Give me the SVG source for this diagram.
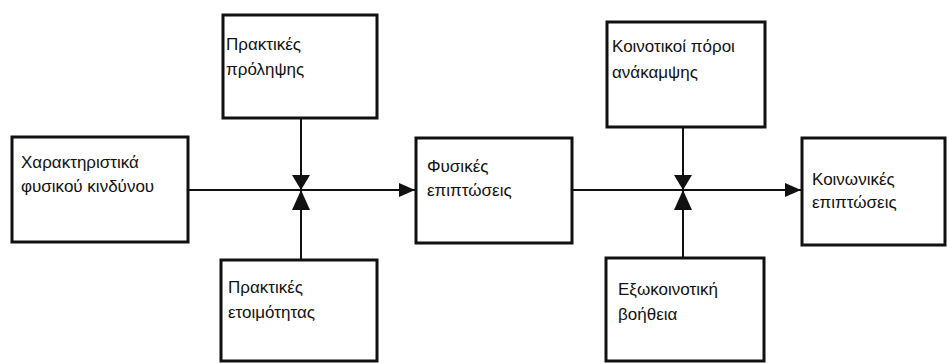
<svg xmlns="http://www.w3.org/2000/svg" width="947" height="363" viewBox="0 0 947 363">
<defs>
<style>
.box{fill:#fff;stroke:#111;stroke-width:3}
.t{font-family:"Liberation Sans",Arial,sans-serif;font-size:17px;fill:#111}
.ln{stroke:#111;stroke-width:2;fill:none}
.ah{fill:#111}
</style>
<marker id="arr" markerWidth="16" markerHeight="14" refX="16" refY="7" orient="auto" markerUnits="userSpaceOnUse">
<path d="M0,0 L16,7 L0,14 Z" fill="#111"/>
</marker>
</defs>
<rect width="947" height="363" fill="#fff"/>
<g id="connectors">
<line class="ln" x1="188" y1="190" x2="415" y2="190" marker-end="url(#arr)"/>
<line class="ln" x1="301" y1="118" x2="301" y2="260"/>
<path class="ah" d="M292,175 L310,175 L301,190 Z"/>
<path class="ah" d="M292,210 L310,210 L301,190 Z"/>
<line class="ln" x1="572" y1="190" x2="801" y2="190" marker-end="url(#arr)"/>
<line class="ln" x1="683" y1="127" x2="683" y2="258"/>
<path class="ah" d="M674,175 L692,175 L683,190 Z"/>
<path class="ah" d="M674,210 L692,210 L683,190 Z"/>
</g>
<g id="hazard">
<rect class="box" x="12" y="137" width="176" height="105"/>
<text class="t" x="21" y="168">Χαρακτηριστικά</text>
<text class="t" x="21" y="192">φυσικού κινδύνου</text>
</g>
<g id="prevention">
<rect class="box" x="223" y="15" width="154" height="103"/>
<text class="t" x="226" y="50">Πρακτικές</text>
<text class="t" x="226" y="75">πρόληψης</text>
</g>
<g id="preparedness">
<rect class="box" x="221" y="260" width="156" height="101"/>
<text class="t" x="228" y="293">Πρακτικές</text>
<text class="t" x="228" y="318">ετοιμότητας</text>
</g>
<g id="physical">
<rect class="box" x="416" y="138" width="156" height="105"/>
<text class="t" x="427" y="172">Φυσικές</text>
<text class="t" x="427" y="196">επιπτώσεις</text>
</g>
<g id="community">
<rect class="box" x="607" y="22" width="158" height="105"/>
<text class="t" x="612" y="52">Κοινοτικοί πόροι</text>
<text class="t" x="612" y="78">ανάκαμψης</text>
</g>
<g id="external">
<rect class="box" x="606" y="258" width="158" height="103"/>
<text class="t" x="618" y="295">Εξωκοινοτική</text>
<text class="t" x="618" y="320">βοήθεια</text>
</g>
<g id="social">
<rect class="box" x="802" y="138" width="143" height="107"/>
<text class="t" x="812" y="185">Κοινωνικές</text>
<text class="t" x="812" y="208">επιπτώσεις</text>
</g>
</svg>
